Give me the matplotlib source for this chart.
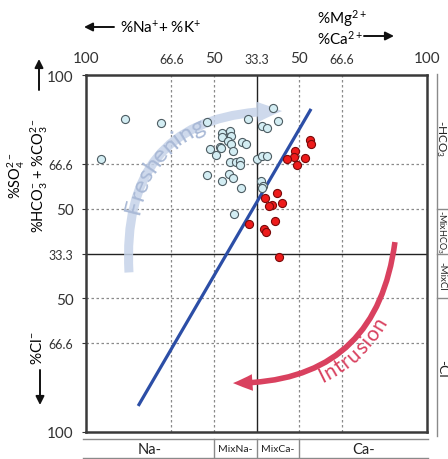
import numpy as np
import matplotlib.pyplot as plt
from matplotlib.patches import FancyArrowPatch

plt.rcParams['font.family'] = ['Lato', 'DejaVu Sans']
plt.rcParams['mathtext.fontset'] = 'custom'
plt.rcParams['mathtext.rm'] = 'Lato'
plt.rcParams['mathtext.it'] = 'Lato:italic'
plt.rcParams['mathtext.bf'] = 'Lato:bold'

# diagram scale: 0..100 on both axes, centre line = 33.3 %
tick_pos = [0, 25, 37.5, 50, 62.5, 75, 100]
tick_lab = ['100', '66.6', '50', '33.3', '50', '66.6', '100']
tick_size = [11, 9, 11, 9, 11, 9, 11]
grid_pos = [25, 37.5, 62.5, 75]

# fresh groundwater samples (light blue)
fresh_x = [4.3, 11.5, 22.1, 35.4, 47.4, 54.9, 56.2, 51.6, 53.1, 40.0, 42.2, 40.0, 42.4,
           41.6, 42.4, 45.8, 47.0, 36.4, 39.3, 39.7, 43.2, 38.1, 42.2, 43.9, 45.2, 45.1,
           50.2, 51.5, 53.0, 35.5, 41.9, 40.0, 43.0, 45.5, 51.3, 52.0, 51.6, 43.5]
fresh_y = [76.4, 87.6, 86.5, 86.9, 87.6, 90.8, 87.1, 85.8, 85.1, 83.7, 84.4, 82.5, 82.9,
           81.5, 80.7, 81.3, 80.8, 79.3, 79.9, 79.5, 78.8, 77.6, 75.6, 75.6, 76.0, 74.9,
           76.5, 77.4, 77.2, 72.0, 72.2, 70.2, 71.1, 68.4, 70.4, 69.0, 68.4, 61.2]

# samples affected by intrusion (red)
salt_x = [65.7, 65.9, 61.2, 61.0, 59.0, 64.1, 62.0, 52.6, 56.0, 57.5, 54.5, 53.6, 55.3,
          47.7, 52.1, 52.9, 56.7]
salt_y = [81.7, 80.6, 78.6, 77.0, 76.6, 76.8, 74.8, 65.5, 67.0, 64.2, 63.7, 63.2, 59.1,
          58.3, 56.9, 55.9, 49.0]

trend_x = [15.3, 66.0]
trend_y = [7.3, 90.5]

hydro_bottom = ['Na-', 'MixNa-', 'MixCa-', 'Ca-']
hydro_right = ['-HCO$_3$', '-MixHCO$_3$', '-MixCl', '-Cl']

W, H = 448, 460
fig = plt.figure(figsize=(W / 100, H / 100), dpi=100)
ax = fig.add_axes([86 / W, 27 / H, 341 / W, 357 / H])
ax.set_xlim(0, 100)
ax.set_ylim(0, 100)

for p in grid_pos:
    ax.axvline(p, color='#8a8a8a', lw=0.9, ls=(0, (2, 2)), zorder=1)
    ax.axhline(p, color='#8a8a8a', lw=0.9, ls=(0, (2, 2)), zorder=1)
ax.axvline(50, color='#222222', lw=1.0, zorder=1)
ax.axhline(50, color='#222222', lw=1.0, zorder=1)

for s in ax.spines.values():
    s.set_linewidth(1.8)
    s.set_color('#3a3a3a')

ax.set_xticks(tick_pos, tick_lab)
ax.set_yticks(tick_pos, tick_lab)
ax.xaxis.tick_top()
ax.tick_params(axis='x', length=0, pad=7, colors='#333333')
ax.tick_params(axis='y', length=3, pad=6, width=0.8, colors='#333333')
for lbl, fs in zip(ax.get_xticklabels(), tick_size):
    lbl.set_fontsize(fs)
for lbl, fs in zip(ax.get_yticklabels(), tick_size):
    lbl.set_fontsize(fs)

ax.plot(trend_x, trend_y, color='#2c4ea6', lw=2.3, zorder=3, solid_capstyle='butt')
ax.scatter(fresh_x, fresh_y, s=34, c='#d3edf3', edgecolors='#4d5c62', linewidths=0.8, zorder=4)
ax.scatter(salt_x, salt_y, s=34, c='#ee1b1b', edgecolors='#7a0a0a', linewidths=0.8, zorder=4)


def curve_text(text, p0, p2, rad, frac, offset, size, color, reverse=False):
    a = ax.transData.transform(p0)
    b = ax.transData.transform(p2)
    d = b - a
    c = (a + b) / 2 + rad * np.array([d[1], -d[0]])
    t = np.linspace(0, 1, 600)[:, None]
    pts = (1 - t) ** 2 * a + 2 * (1 - t) * t * c + t ** 2 * b
    if reverse:
        pts = pts[::-1]
    s = np.concatenate([[0], np.cumsum(np.hypot(*np.diff(pts, axis=0).T))])
    r = fig.canvas.get_renderer()
    widths = [0.0]
    for k in range(1, len(text) + 1):
        tmp = fig.text(0, 0, text[:k], fontsize=size)
        widths.append(tmp.get_window_extent(r).width)
        tmp.remove()
    start = frac * s[-1] - widths[-1] / 2
    inv = ax.transData.inverted()
    for k, ch in enumerate(text):
        sc = start + (widths[k] + widths[k + 1]) / 2
        i = min(np.searchsorted(s, sc), len(s) - 2)
        tx, ty = pts[i + 1] - pts[i]
        n = np.hypot(tx, ty)
        nx, ny = -ty / n, tx / n
        px, py = pts[i] + offset * np.array([nx, ny])
        xd, yd = inv.transform((px, py))
        ax.text(xd, yd, ch, fontsize=size, color=color, rotation=np.degrees(np.arctan2(ty, tx)),
                rotation_mode='anchor', ha='center', va='center', zorder=5)


# freshening arrow
f0, f1 = (12.6, 44.7), (57.5, 89.9)
ax.add_patch(FancyArrowPatch(f0, f1, connectionstyle='arc3,rad=-0.53',
                             arrowstyle='simple,head_length=18,head_width=15,tail_width=6.5',
                             mutation_scale=1, color='#c6d3e9', lw=0, shrinkA=0, shrinkB=0,
                             alpha=0.85, zorder=2))
curve_text('Freshening', f0, f1, -0.53, 0.46, 0, 17.5, '#a9b9d6')

# intrusion arrow
i0, i1 = (90.6, 53.2), (43.1, 13.7)
ax.add_patch(FancyArrowPatch(i0, i1, connectionstyle='arc3,rad=-0.44',
                             arrowstyle='simple,head_length=14,head_width=12,tail_width=4',
                             mutation_scale=1, color='#d9415f', lw=0, shrinkA=0, shrinkB=0,
                             zorder=2))
curve_text('Intrusion', i0, i1, -0.44, 0.52, -10.5, 15, '#d9415f', reverse=True)

# hydrochemical facies bands below and to the right
bounds = [0, 37.5, 50, 62.5, 100]
ax.plot([-0.9, 100.3], [-2.0, -2.0], color='#8a8a8a', lw=1, clip_on=False)
ax.plot([-0.9, 100.3], [-7.3, -7.3], color='#8a8a8a', lw=1, clip_on=False)
for b in bounds[1:-1]:
    ax.plot([b, b], [-2.0, -7.3], color='#8a8a8a', lw=1, clip_on=False)
    ax.plot([102.9, 106.5], [b, b], color='#8a8a8a', lw=1, clip_on=False)
ax.plot([102.9, 102.9], [100.3, -1.2], color='#8a8a8a', lw=1, clip_on=False)

bot_size = [10.5, 7.5, 7.5, 10.5]
for k, name in enumerate(hydro_bottom):
    ax.text((bounds[k] + bounds[k + 1]) / 2, -4.7, name, fontsize=bot_size[k],
            ha='center', va='center', color='#222222', clip_on=False)
right_y = [82.5, 56.3, 43.8, 18.0]
right_size = [8.5, 6.5, 7, 10]
right_x = [104.0, 104.3, 104.3, 104.3]
for name, xx, yy, fs in zip(hydro_right, right_x, right_y, right_size):
    ax.text(xx, yy, name, fontsize=fs, rotation=-90, ha='center', va='center',
            color='#222222', clip_on=False)


# axis captions in figure pixels
def fpos(px, py):
    return px / W, 1 - py / H


def farrow(p0, p1):
    fig.add_artist(FancyArrowPatch(fpos(*p0), fpos(*p1), transform=fig.transFigure,
                                   arrowstyle='-|>,head_length=5,head_width=2.5',
                                   mutation_scale=1, lw=1.4, color='#111111',
                                   shrinkA=0, shrinkB=0))


fig.text(*fpos(120, 28), '%Na$^{+}$+ %K$^{+}$', fontsize=11, ha='left', va='center')
farrow((114, 28), (84, 28))
fig.text(*fpos(317, 19), '%Mg$^{2+}$', fontsize=11, ha='left', va='center')
fig.text(*fpos(317, 39), '%Ca$^{2+}$', fontsize=11, ha='left', va='center')
farrow((364, 37), (394, 37))

fig.text(*fpos(28, 176), '%SO$_4^{2-}$\n%HCO$_3^{-}$ + %CO$_3^{2-}$', fontsize=10.5,
         rotation=90, ha='center', va='center', multialignment='center', linespacing=1.15)
farrow((39, 91), (39, 60))
fig.text(*fpos(37, 348), '%Cl$^{-}$', fontsize=11, rotation=90, ha='center', va='center')
farrow((40, 371), (40, 406))

fig.savefig('out.png', dpi=100)
